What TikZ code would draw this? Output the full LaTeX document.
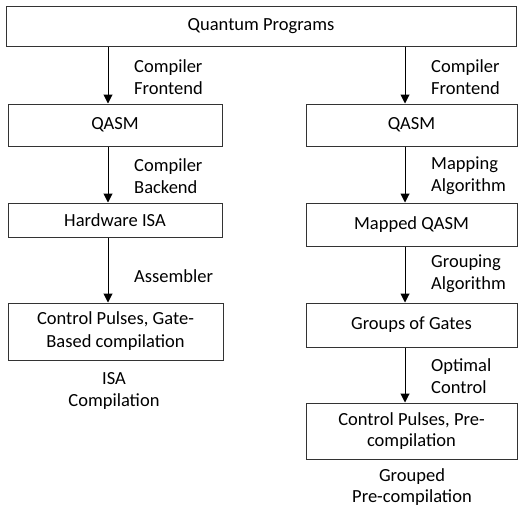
\documentclass[tikz,border=0pt]{standalone}
\usepackage{fontspec}
\setmainfont{Carlito}
\usetikzlibrary{arrows.meta}
\tikzset{
  box/.style={draw=black!80, line width=1pt, inner sep=0pt, align=center,
    font=\fontsize{18.5}{23}\selectfont},
  lbl/.style={inner sep=0pt, align=left, anchor=west, font=\fontsize{18.5}{22}\selectfont},
  captext/.style={inner sep=0pt, align=center, font=\fontsize{18.5}{21.5}\selectfont},
  arr/.style={line width=1pt, -{Triangle[length=9pt,width=9pt]}}
}
\begin{document}
\begin{tikzpicture}[x=1pt,y=-1pt]
\useasboundingbox (0,0) rectangle (518,512);
% boxes
\node[box, minimum width=510pt, minimum height=40pt] (top) at (261,26) {Quantum Programs};
\node[box, minimum width=214pt, minimum height=42pt] (qasmL) at (115,125) {QASM};
\node[box, minimum width=214pt, minimum height=34pt] (hwL) at (115,220) {Hardware ISA};
\node[box, minimum width=215pt, minimum height=57pt] (cpL) at (115.5,331.5) {Control Pulses, Gate-\\Based compilation};
\node[box, minimum width=211pt, minimum height=42pt] (qasmR) at (411.5,125) {QASM};
\node[box, minimum width=211pt, minimum height=43pt] (mapR) at (411.5,224.5) {Mapped QASM};
\node[box, minimum width=211pt, minimum height=44pt] (grR) at (411.5,325) {Groups of Gates};
\node[box, minimum width=211pt, minimum height=56pt, font=\fontsize{18.5}{21.5}\selectfont] (cpR) at (411.5,431) {Control Pulses, Pre-\\compilation};
% arrow columns
\coordinate (xl) at (108,0);
\coordinate (xr) at (405,0);
\draw[arr] (top.south -| xl) -- (qasmL.north -| xl);
\draw[arr] (qasmL.south -| xl) -- (hwL.north -| xl);
\draw[arr] (hwL.south -| xl) -- (cpL.north -| xl);
\draw[arr] (top.south -| xr) -- (qasmR.north -| xr);
\draw[arr] (qasmR.south -| xr) -- (mapR.north -| xr);
\draw[arr] (mapR.south -| xr) -- (grR.north -| xr);
\draw[arr] (grR.south -| xr) -- (cpR.north -| xr);
% labels
\node[lbl] (l1) at (134,77.5) {Compiler\\Frontend};
\node[lbl] (l2) at (134,176) {Compiler\\Backend};
\node[lbl] (l3) at (134,276) {Assembler};
\node[lbl] (r1) at (431,77.5) {Compiler\\Frontend};
\node[lbl] (r2) at (431,176) {Mapping\\Algorithm};
\node[lbl] (r3) at (431,274) {Grouping\\Algorithm};
\node[lbl] (r4) at (431,376) {Optimal\\Control};
\node[captext] (c1) at (114,391) {ISA\\Compilation};
\node[captext] (c2) at (412,487) {Grouped\\Pre-compilation};
\end{tikzpicture}
\end{document}
